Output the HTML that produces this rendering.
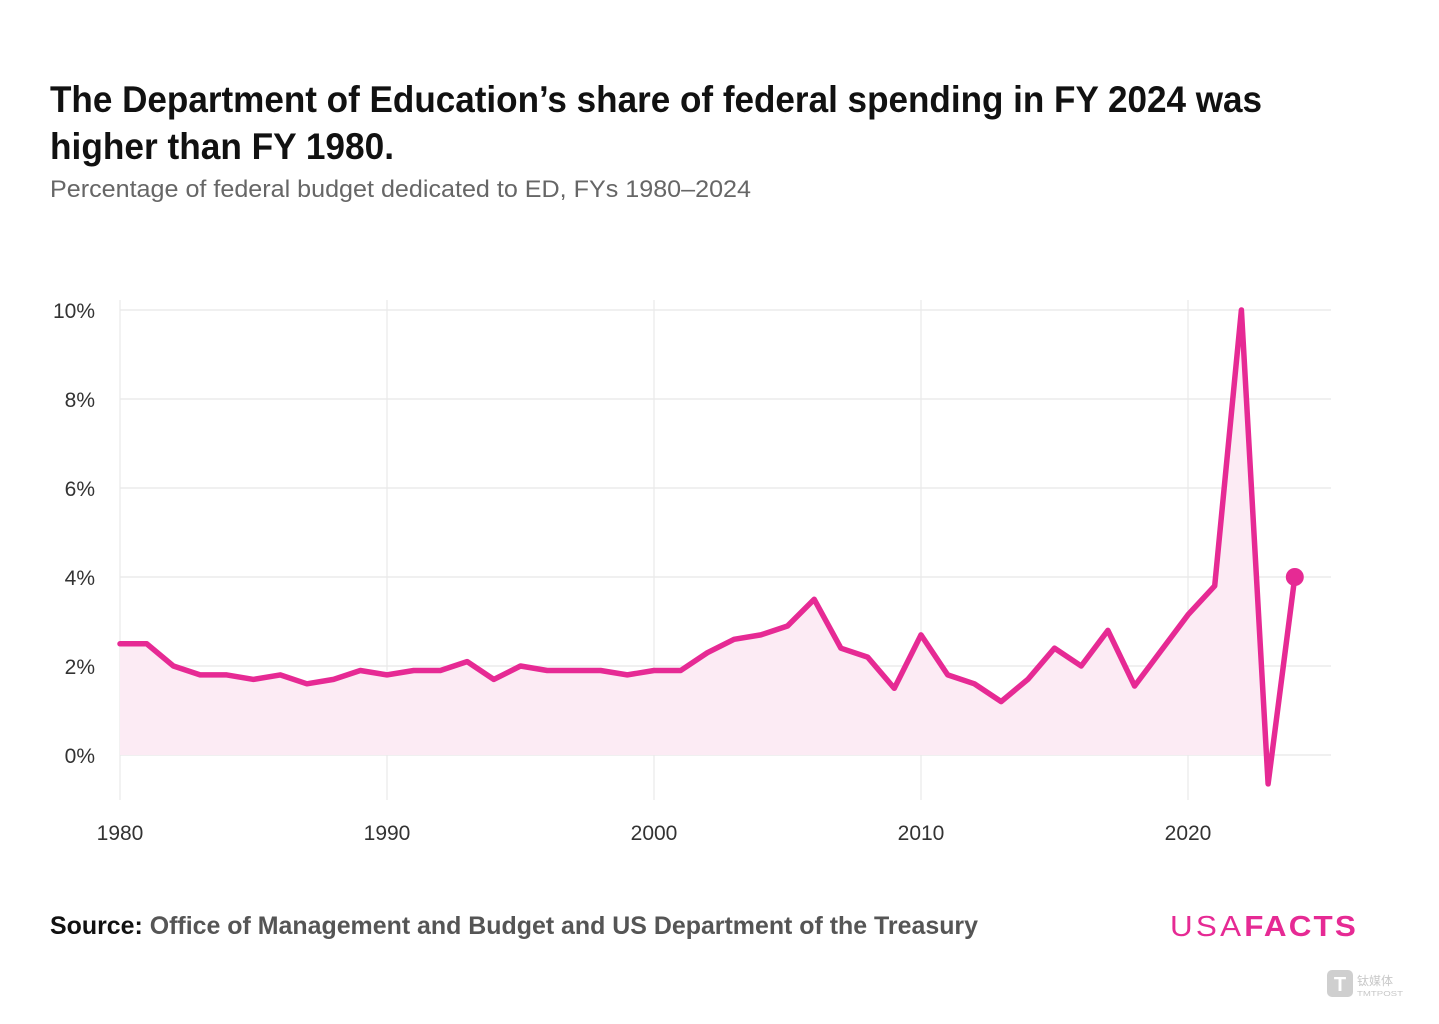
<!DOCTYPE html>
<html>
<head>
<meta charset="utf-8">
<style>
  html,body{margin:0;padding:0;background:#fff;}
  svg{display:block;}
  text{font-family:"Liberation Sans","Noto Sans CJK SC",sans-serif;}
</style>
</head>
<body>
<svg width="1439" height="1024" viewBox="0 0 1439 1024" xmlns="http://www.w3.org/2000/svg">
  <rect width="1439" height="1024" fill="#ffffff"/>

  <!-- Title -->
  <text x="50" y="112" font-size="37" font-weight="bold" fill="#111" textLength="1212" lengthAdjust="spacingAndGlyphs">The Department of Education’s share of federal spending in FY 2024 was</text>
  <text x="50" y="159" font-size="37" font-weight="bold" fill="#111" textLength="344" lengthAdjust="spacingAndGlyphs">higher than FY 1980.</text>
  <text x="50" y="197" font-size="24" fill="#666" textLength="701" lengthAdjust="spacingAndGlyphs">Percentage of federal budget dedicated to ED, FYs 1980–2024</text>

  <!-- Grid -->
  <g stroke="#e8e8e8" stroke-width="1.2">
    <line x1="120" y1="310" x2="1331" y2="310"/>
    <line x1="120" y1="399" x2="1331" y2="399"/>
    <line x1="120" y1="488" x2="1331" y2="488"/>
    <line x1="120" y1="577" x2="1331" y2="577"/>
    <line x1="120" y1="666" x2="1331" y2="666"/>
    <line x1="120" y1="755" x2="1331" y2="755"/>
    <line x1="120" y1="300" x2="120" y2="800"/>
    <line x1="387" y1="300" x2="387" y2="800"/>
    <line x1="654" y1="300" x2="654" y2="800"/>
    <line x1="921" y1="300" x2="921" y2="800"/>
    <line x1="1188" y1="300" x2="1188" y2="800"/>
  </g>

  <!-- Y labels -->
  <g font-size="21" fill="#333" text-anchor="end">
    <text x="95" y="318">10%</text>
    <text x="95" y="407">8%</text>
    <text x="95" y="496">6%</text>
    <text x="95" y="585">4%</text>
    <text x="95" y="674">2%</text>
    <text x="95" y="763">0%</text>
  </g>

  <!-- X labels -->
  <g font-size="21" fill="#333" text-anchor="middle">
    <text x="120" y="840">1980</text>
    <text x="387" y="840">1990</text>
    <text x="654" y="840">2000</text>
    <text x="921" y="840">2010</text>
    <text x="1188" y="840">2020</text>
  </g>

  <!-- Area -->
  <polygon fill="#fcebf4" points="120,755 120,643.8 146.7,643.8 173.4,666 200.1,674.9 226.8,674.9 253.5,679.4 280.2,674.9 306.9,683.8 333.6,679.4 360.3,670.5 387,674.9 413.7,670.5 440.4,670.5 467.1,661.6 493.8,679.4 520.5,666 547.2,670.5 573.9,670.5 600.6,670.5 627.3,674.9 654,670.5 680.7,670.5 707.4,652.7 734.1,639.3 760.8,634.9 787.5,626 814.2,599.3 840.9,648.2 867.6,657.1 894.3,688.3 921,634.9 947.7,674.9 974.4,683.8 1001.1,701.6 1027.8,679.4 1054.5,648.2 1081.2,666 1107.9,630.4 1134.6,686 1161.3,650.4 1188,614.8 1214.7,585.9 1241.4,310 1264,755 1294.8,755 1294.8,577 1294.8,755"/>

  <!-- Line -->
  <polyline fill="none" stroke="#e62a94" stroke-width="5.5" stroke-linejoin="round" stroke-linecap="round" points="120,643.8 146.7,643.8 173.4,666 200.1,674.9 226.8,674.9 253.5,679.4 280.2,674.9 306.9,683.8 333.6,679.4 360.3,670.5 387,674.9 413.7,670.5 440.4,670.5 467.1,661.6 493.8,679.4 520.5,666 547.2,670.5 573.9,670.5 600.6,670.5 627.3,674.9 654,670.5 680.7,670.5 707.4,652.7 734.1,639.3 760.8,634.9 787.5,626 814.2,599.3 840.9,648.2 867.6,657.1 894.3,688.3 921,634.9 947.7,674.9 974.4,683.8 1001.1,701.6 1027.8,679.4 1054.5,648.2 1081.2,666 1107.9,630.4 1134.6,686 1161.3,650.4 1188,614.8 1214.7,585.9 1241.4,310 1268.1,783.9 1294.8,577"/>
  <circle cx="1294.8" cy="577" r="9" fill="#e62a94"/>

  <!-- Source -->
  <text x="50" y="934" font-size="25" font-weight="bold" textLength="928" lengthAdjust="spacingAndGlyphs"><tspan fill="#111">Source: </tspan><tspan fill="#555">Office of Management and Budget and US Department of the Treasury</tspan></text>

  <!-- USAFACTS logo -->
  <text x="1170" y="936" font-size="29" fill="#e62a94" textLength="188" lengthAdjust="spacingAndGlyphs"><tspan font-weight="normal" letter-spacing="3">USA</tspan><tspan font-weight="bold" letter-spacing="2">FACTS</tspan></text>

  <!-- Watermark -->
  <rect x="1327" y="970" width="26" height="27" rx="5" fill="#cfcfcf"/>
  <text x="1340" y="991" font-size="20" font-weight="bold" fill="#fff" text-anchor="middle">T</text>
  <text x="1357" y="985" font-size="12" fill="#c8c8c8">钛媒体</text>
  <text x="1357" y="996" font-size="7" fill="#c8c8c8" textLength="46" lengthAdjust="spacingAndGlyphs">TMTPOST</text>
</svg>
</body>
</html>
